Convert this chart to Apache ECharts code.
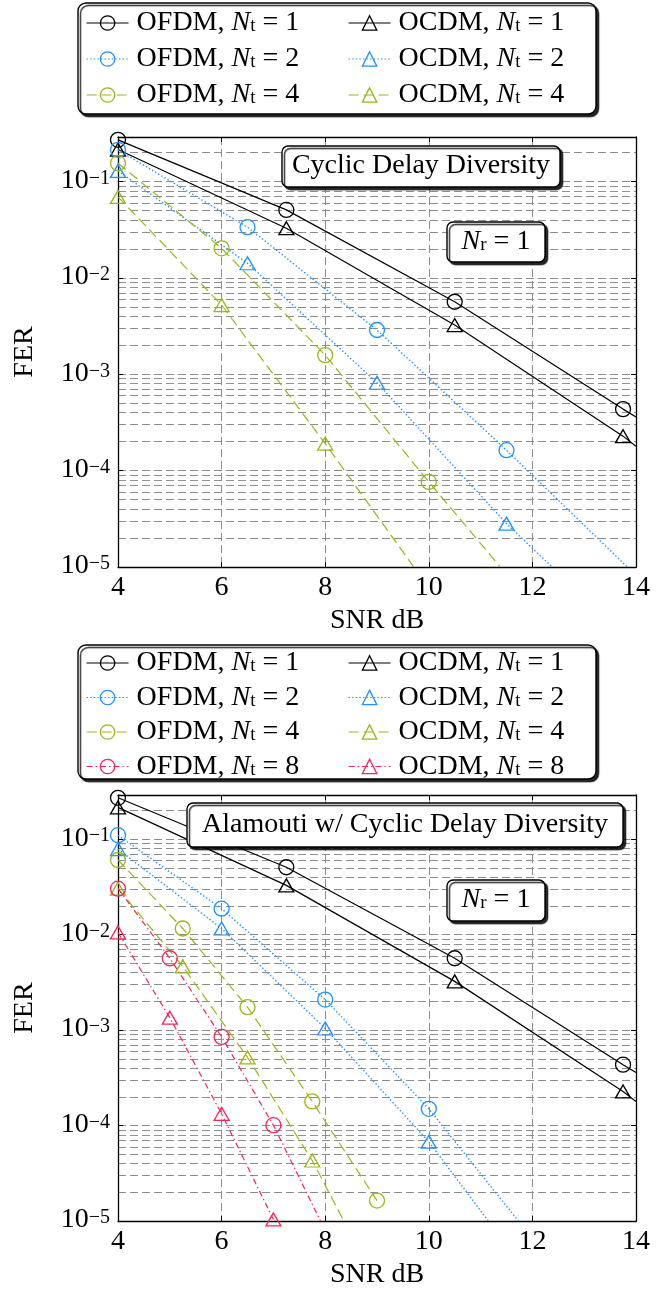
<!DOCTYPE html>
<html>
<head>
<meta charset="utf-8">
<script src="https://cdn.jsdelivr.net/npm/echarts@6/dist/echarts.min.js"></script>
<style>
html,body{margin:0;padding:0;background:#fff;}
#c1{width:672px;height:640px;}
#c2{width:672px;height:654px;}
</style>
</head>
<body>
<div id="c1"></div>
<div id="c2"></div>
<script>
// ---------------- DATA ----------------
const snrTicks = [4, 6, 8, 10, 12, 14];
const minorMultipliers = [2, 3, 4, 5, 6, 7, 8, 9];

// Nt = 1 (identical in both panels)
const ofdm1_snr = [4, 7.25, 10.5, 13.75, 14];
const ofdm1_fer = [0.271, 0.0508, 0.00566, 4.35e-4, 3.6e-4];
const ocdm1_snr = [4, 7.25, 10.5, 13.75, 14];
const ocdm1_fer = [0.215, 0.0328, 0.00324, 2.28e-4, 1.79e-4];

// Panel 1: Cyclic Delay Diversity
const cdd_ofdm2_snr = [4, 6.5, 9, 11.5, 13.83];
const cdd_ofdm2_fer = [0.213, 0.0336, 0.00288, 1.63e-4, 1e-5];
const cdd_ocdm2_snr = [4, 6.5, 9, 11.5, 12.38];
const cdd_ocdm2_fer = [0.129, 0.0142, 8.17e-4, 2.82e-5, 1e-5];
const cdd_ofdm4_snr = [4, 6, 8, 10, 11.38];
const cdd_ofdm4_fer = [0.155, 0.0203, 0.00158, 7.64e-5, 1e-5];
const cdd_ocdm4_snr = [4, 6, 8, 9.71];
const cdd_ocdm4_fer = [0.0693, 0.00523, 1.91e-4, 1e-5];

// Panel 2: Alamouti w/ Cyclic Delay Diversity
const ala_ofdm2_snr = [4, 6, 8, 10, 11.73];
const ala_ofdm2_fer = [0.110, 0.0187, 0.00209, 1.50e-4, 1e-5];
const ala_ocdm2_snr = [4, 6, 8, 10, 11.15];
const ala_ocdm2_fer = [0.0787, 0.0116, 1.04e-3, 6.78e-5, 1e-5];
const ala_ofdm4_snr = [4, 5.25, 6.5, 7.75, 9];
const ala_ofdm4_fer = [0.0605, 0.0116, 0.00174, 1.79e-4, 1.64e-5];
const ala_ocdm4_snr = [4, 5.25, 6.5, 7.75, 8.36];
const ala_ocdm4_fer = [0.0303, 0.00465, 5.18e-4, 4.31e-5, 1e-5];
const ala_ofdm8_snr = [4, 5, 6, 7, 7.91];
const ala_ofdm8_fer = [0.0303, 0.00566, 8.5e-4, 1.01e-4, 1e-5];
const ala_ocdm8_snr = [4, 5, 6, 7];
const ala_ocdm8_fer = [0.01054, 1.35e-3, 1.33e-4, 1.04e-5];

const panel1Title = 'Cyclic Delay Diversity';
const panel2Title = 'Alamouti w/ Cyclic Delay Diversity';
const xName = 'SNR dB';
const yName = 'FER';

// ---------------- STYLE ----------------
const FONT = 'Liberation Serif';
const FS = 28;
const XMIN = 4, XMAX = 14, YMIN = 1e-5, YMAX = 0.29;
const COL = {1: '#000000', 2: '#1e90ff', 4: '#9ab51e', 8: '#f0285a'};
const DASH = {1: 'solid', 2: [1.4, 2.2], 4: [10, 5], 8: [6, 3, 1.4, 3]};
const GRID_STYLE = {color: '#8e8e8e', width: 1, type: [8, 4]};

function isEdge(x, y) { return x >= XMAX || y <= YMIN; }

function mkSeries(scheme, nt, snr, fer) {
  const sym = scheme === 'OFDM' ? 'circle' : 'triangle';
  return {
    name: scheme + '|' + nt,
    type: 'line',
    z: 10,
    xAxisIndex: 0, yAxisIndex: 0,
    data: snr.map((x, i) => isEdge(x, fer[i]) ? {value: [x, fer[i]], symbol: 'none'} : [x, fer[i]]),
    symbol: sym,
    symbolSize: sym === 'circle' ? 15 : [15, 13],
    showAllSymbol: true,
    lineStyle: {color: COL[nt], width: nt === 2 ? 1.4 : 1.2, type: DASH[nt]},
    itemStyle: {color: 'transparent', borderColor: COL[nt], borderWidth: 1.3},
    emphasis: {disabled: true},
    clip: true,
    animation: false
  };
}

const richMath = {
  i: {fontFamily: FONT, fontSize: FS, fontStyle: 'italic', color: '#000', lineHeight: 26},
  s: {fontFamily: FONT, fontSize: 19, color: '#000', lineHeight: 26, verticalAlign: 'bottom'},
  e: {fontFamily: FONT, fontSize: FS, color: '#000', lineHeight: 26},
  p: {fontFamily: FONT, fontSize: FS, color: '#000', lineHeight: 26}
};

function legendFmt(name) {
  const parts = name.split('|');
  return '{p|' + parts[0] + ', }{i|N}{s|t}{e| = ' + parts[1] + '}';
}

function mkLegend(names, left, top, gap) {
  return {
    data: names, orient: 'vertical', left: left, top: top, z: 200,
    itemWidth: 42, itemHeight: 18, itemGap: gap, padding: 0,
    selectedMode: false,
    formatter: legendFmt,
    textStyle: {fontFamily: FONT, fontSize: FS, color: '#000', lineHeight: 26, padding: [0, 0, 0, 3], rich: richMath},
    itemStyle: {borderWidth: 1.3},
    lineStyle: {width: 1.2}
  };
}

function yLabelFmt(v) {
  const e = Math.round(Math.log10(v));
  if (Math.abs(Math.log10(v) - e) > 1e-6) return '';
  return '{b|10}{u|\u2212' + (-e) + '}';
}

function mkBox(x, y, w, h, r) {
  return {
    type: 'rect', z: 100,
    shape: {x: x, y: y, width: w, height: h, r: r},
    style: {fill: '#fff', stroke: '#000', lineWidth: 1.4,
            shadowColor: 'rgba(0,0,0,0.85)', shadowOffsetX: 2.5, shadowOffsetY: 2.5, shadowBlur: 1}
  };
}
function mkText(cx, cy, text) {
  return {
    type: 'text', z: 101, x: cx, y: cy,
    style: {text: text, fontFamily: FONT, fontSize: FS, fill: '#000', align: 'center', verticalAlign: 'middle', rich: richMath}
  };
}

function axes(gridTop) {
  const axisLine = {show: true, lineStyle: {color: '#000', width: 1.3}};
  const tick = {show: true, inside: true, length: 5, lineStyle: {color: '#000', width: 1}};
  const yAxes = [
    {type: 'log', logBase: 10, min: YMIN, max: YMAX, position: 'left', z: 5,
     axisLine: axisLine, axisTick: tick,
     axisLabel: {formatter: yLabelFmt, margin: 8,
                 rich: {b: {fontFamily: FONT, fontSize: FS, color: '#000', lineHeight: 26, verticalAlign: 'bottom'},
                        u: {fontFamily: FONT, fontSize: 20, color: '#000', lineHeight: 26, verticalAlign: 'top', padding: [0, 0, 8, 0]}}},
     splitLine: {show: true, lineStyle: GRID_STYLE},
     name: yName, nameLocation: 'middle', nameGap: 79, nameRotate: 90,
     nameTextStyle: {fontFamily: FONT, fontSize: FS, color: '#000'}},
    {type: 'log', logBase: 10, min: YMIN, max: YMAX, position: 'right', z: 5,
     axisLine: axisLine, axisTick: tick, axisLabel: {show: false}, splitLine: {show: false}}
  ];
  // minor grid: log axes shifted by a multiplier, so their decade lines fall on m*10^k of the main axis
  minorMultipliers.forEach(m => {
    yAxes.push({type: 'log', logBase: 10, min: YMIN / m, max: YMAX / m, position: 'left', z: 0,
      axisLine: {show: false}, axisTick: {show: false}, axisLabel: {show: false},
      splitLine: {show: true, lineStyle: GRID_STYLE}});
  });
  return {
    grid: {left: 118, top: gridTop, width: 518, height: 430, containLabel: false},
    xAxis: [
      {type: 'value', min: XMIN, max: XMAX, interval: 2, position: 'bottom', z: 5,
       axisLine: axisLine, axisTick: tick,
       axisLabel: {fontFamily: FONT, fontSize: FS, color: '#000', margin: 7},
       splitLine: {show: true, lineStyle: GRID_STYLE},
       name: xName, nameLocation: 'middle', nameGap: 39,
       nameTextStyle: {fontFamily: FONT, fontSize: FS, color: '#000'}},
      {type: 'value', min: XMIN, max: XMAX, interval: 2, position: 'top', z: 5,
       axisLine: axisLine, axisTick: tick, axisLabel: {show: false}, splitLine: {show: false}}
    ],
    yAxis: yAxes
  };
}

// ---------------- CHART 1 ----------------
const c1 = echarts.init(document.getElementById('c1'), null, {renderer: 'canvas'});
const a1 = axes(137);
c1.setOption(Object.assign(a1, {
  animation: false,
  legend: [
    mkLegend(['OFDM|1', 'OFDM|2', 'OFDM|4'], 86, 9, 8),
    mkLegend(['OCDM|1', 'OCDM|2', 'OCDM|4'], 348, 9, 8)
  ],
  graphic: [
    mkBox(78, 3, 518, 111, 8),
    mkBox(282, 146, 278, 41, 6),
    mkText(421, 166, panel1Title),
    mkBox(447, 222, 98, 40, 6),
    mkText(496, 242, '{i|N}{s|r}{e| = 1}')
  ],
  series: [
    mkSeries('OFDM', 1, ofdm1_snr, ofdm1_fer),
    mkSeries('OCDM', 1, ocdm1_snr, ocdm1_fer),
    mkSeries('OFDM', 2, cdd_ofdm2_snr, cdd_ofdm2_fer),
    mkSeries('OCDM', 2, cdd_ocdm2_snr, cdd_ocdm2_fer),
    mkSeries('OFDM', 4, cdd_ofdm4_snr, cdd_ofdm4_fer),
    mkSeries('OCDM', 4, cdd_ocdm4_snr, cdd_ocdm4_fer)
  ]
}));

// ---------------- CHART 2 ----------------
const c2 = echarts.init(document.getElementById('c2'), null, {renderer: 'canvas'});
const a2 = axes(155);
c2.setOption(Object.assign(a2, {
  animation: false,
  legend: [
    mkLegend(['OFDM|1', 'OFDM|2', 'OFDM|4', 'OFDM|8'], 86, 9, 6.5),
    mkLegend(['OCDM|1', 'OCDM|2', 'OCDM|4', 'OCDM|8'], 348, 9, 6.5)
  ],
  graphic: [
    mkBox(78, 5, 518, 134, 8),
    mkBox(187, 163, 436, 44, 6),
    mkText(405, 185, panel2Title),
    mkBox(447, 240, 98, 41, 6),
    mkText(496, 260, '{i|N}{s|r}{e| = 1}')
  ],
  series: [
    mkSeries('OFDM', 1, ofdm1_snr, ofdm1_fer),
    mkSeries('OCDM', 1, ocdm1_snr, ocdm1_fer),
    mkSeries('OFDM', 2, ala_ofdm2_snr, ala_ofdm2_fer),
    mkSeries('OCDM', 2, ala_ocdm2_snr, ala_ocdm2_fer),
    mkSeries('OFDM', 4, ala_ofdm4_snr, ala_ofdm4_fer),
    mkSeries('OCDM', 4, ala_ocdm4_snr, ala_ocdm4_fer),
    mkSeries('OFDM', 8, ala_ofdm8_snr, ala_ofdm8_fer),
    mkSeries('OCDM', 8, ala_ocdm8_snr, ala_ocdm8_fer)
  ]
}));
</script>
</body>
</html>
